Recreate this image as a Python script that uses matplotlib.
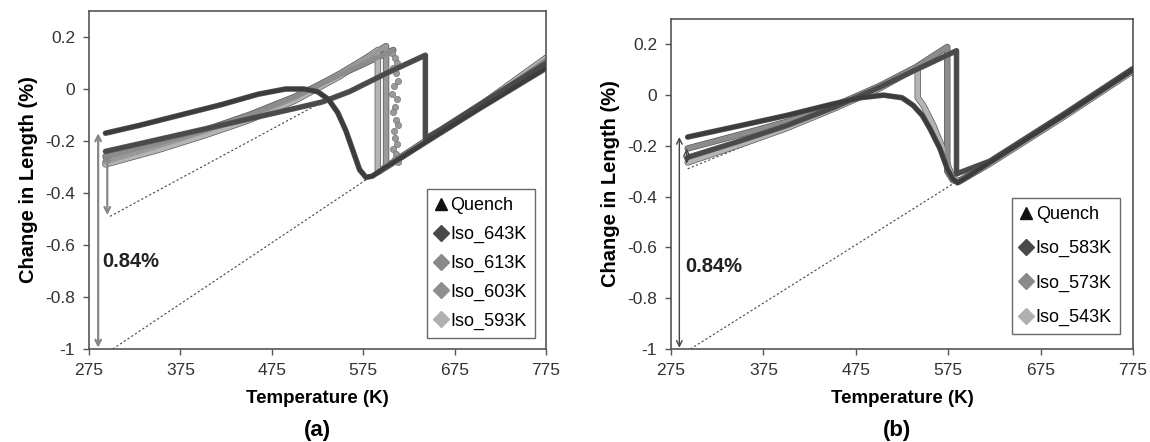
import matplotlib
matplotlib.use("Agg")
import matplotlib.pyplot as plt
from matplotlib.lines import Line2D

plt.rcParams["font.family"] = ["Liberation Sans", "DejaVu Sans"]

# Panel (a) data
quench_a_T = [293, 330, 375, 420, 460, 490, 510, 525, 537, 547, 556, 564, 571, 578, 585, 600, 650, 700, 775]
quench_a_y = [-0.17, -0.14, -0.10, -0.06, -0.02, 0.0, 0.0, -0.01, -0.04, -0.09, -0.16, -0.24, -0.31, -0.34, -0.335, -0.30, -0.19, -0.08, 0.08]

iso643_T = [293, 350, 400, 450, 506, 530, 560, 600, 643, 643, 660, 700, 775]
iso643_y = [-0.24, -0.195, -0.155, -0.115, -0.07, -0.05, -0.01, 0.06, 0.13, -0.19, -0.155, -0.065, 0.10]

iso613_T = [293, 350, 400, 450, 500, 550, 608]
iso613_y = [-0.26, -0.21, -0.16, -0.10, -0.03, 0.055, 0.15]
iso613_drop_T = [607, 610, 612, 608, 611, 613, 609, 607, 612, 610, 608, 611, 613, 609, 610, 612, 608, 611, 610, 613]
iso613_drop_y = [0.14, 0.12, 0.10, 0.08, 0.06, 0.03, 0.01, -0.02, -0.04, -0.07, -0.09, -0.12, -0.14, -0.16, -0.19, -0.21, -0.23, -0.25, -0.27, -0.28]
iso613_tail_T = [613, 650, 700, 775]
iso613_tail_y = [-0.27, -0.185, -0.075, 0.11]

iso603_T = [293, 350, 400, 450, 500, 550, 600, 600, 650, 700, 775]
iso603_y = [-0.28, -0.22, -0.165, -0.105, -0.035, 0.06, 0.165, -0.30, -0.185, -0.075, 0.11]

iso593_T = [293, 350, 400, 450, 500, 550, 591, 591, 650, 700, 775]
iso593_y = [-0.29, -0.235, -0.18, -0.12, -0.045, 0.05, 0.15, -0.32, -0.185, -0.07, 0.12]

guide_a1_T = [298, 530]
guide_a1_y = [-0.49, -0.05]
guide_a2_T = [301, 582]
guide_a2_y = [-1.0, -0.34]

# Panel (b) data
quench_b_T = [293, 350, 400, 450, 480, 505, 525, 537, 547, 555, 566, 574, 580, 585, 592, 620, 700, 775]
quench_b_y = [-0.165, -0.12, -0.08, -0.035, -0.01, 0.0, -0.01, -0.04, -0.08, -0.13, -0.21, -0.29, -0.33, -0.345, -0.33, -0.265, -0.08, 0.10]

iso583_T = [293, 350, 400, 450, 500, 540, 584, 584, 620, 700, 775]
iso583_y = [-0.245, -0.18, -0.12, -0.05, 0.03, 0.10, 0.175, -0.31, -0.26, -0.075, 0.105]

iso573_T = [293, 350, 400, 450, 500, 540, 574, 574, 580, 586, 620, 700, 775]
iso573_y = [-0.21, -0.155, -0.105, -0.045, 0.035, 0.11, 0.19, -0.30, -0.335, -0.34, -0.265, -0.08, 0.10]

iso543_T = [293, 350, 400, 450, 500, 542, 542, 548, 559, 568, 575, 580, 587, 620, 700, 775]
iso543_y = [-0.265, -0.195, -0.13, -0.055, 0.025, 0.11, -0.01, -0.04, -0.12, -0.20, -0.28, -0.325, -0.34, -0.27, -0.085, 0.095]

guide_b_T = [[293, 450], [293, 460], [293, 470], [296, 582]]
guide_b_y = [[-0.26, -0.05], [-0.275, -0.04], [-0.29, -0.03], [-1.0, -0.345]]

x_ticks = [275, 375, 475, 575, 675, 775]
y_ticks = [-1, -0.8, -0.6, -0.4, -0.2, 0, 0.2]
y_tick_labels = ["-1", "-0.8", "-0.6", "-0.4", "-0.2", "0", "0.2"]

legend_a = [("Quench", "^", "#111111"), ("Iso_643K", "D", "#4a4a4a"),
            ("Iso_613K", "D", "#8a8a8a"), ("Iso_603K", "D", "#8f8f8f"),
            ("Iso_593K", "D", "#b0b0b0")]
legend_b = [("Quench", "^", "#111111"), ("Iso_583K", "D", "#4a4a4a"),
            ("Iso_573K", "D", "#8a8a8a"), ("Iso_543K", "D", "#b0b0b0")]


def style_axes(ax):
    ax.set_xlim(275, 775)
    ax.set_ylim(-1, 0.3)
    ax.set_xticks(x_ticks)
    ax.set_yticks(y_ticks)
    ax.set_yticklabels(y_tick_labels)
    ax.tick_params(direction="out", length=4, width=1, color="#555555",
                   labelsize=12.5, labelcolor="#333333", pad=6)
    for s in ax.spines.values():
        s.set_color("#555555")
        s.set_linewidth(1.2)
    ax.set_xlabel("Temperature (K)", fontsize=13.5, fontweight="bold", labelpad=9)
    ax.set_ylabel("Change in Length (%)", fontsize=14.5, fontweight="bold", labelpad=5)


def curve(ax, T, y, color, lw=3.6, z=2):
    ax.plot(T, y, color="#5a5a5a", lw=lw + 1.0, solid_capstyle="round", zorder=z)
    ax.plot(T, y, color=color, lw=lw, solid_capstyle="round", zorder=z + 0.1)


def add_legend(ax, items, anchor, spacing):
    handles = [Line2D([], [], ls="none", marker=m, color=c, markersize=8 if m == "D" else 9)
               for _, m, c in items]
    leg = ax.legend(handles, [t for t, _, _ in items], loc="lower right",
                    bbox_to_anchor=anchor, fontsize=13, frameon=True, fancybox=False,
                    edgecolor="#444444", handlelength=0.6, handletextpad=0.25,
                    labelspacing=spacing, borderpad=0.45, borderaxespad=0)
    leg.get_frame().set_linewidth(1.0)


def arrow(ax, x, y0, y1, color, lw):
    ax.annotate("", xy=(x, y1), xytext=(x, y0),
                arrowprops=dict(arrowstyle="<->", color=color, lw=lw,
                                shrinkA=0, shrinkB=0), zorder=4)


fig = plt.figure(figsize=(11.5, 4.42), dpi=100)
ax_a = fig.add_axes([0.0774, 0.2104, 0.3974, 0.7647])
ax_b = fig.add_axes([0.5835, 0.2104, 0.4017, 0.7466])

# (a)
ax_a.plot(guide_a1_T, guide_a1_y, ls=(0, (2, 2)), color="#444444", lw=0.8)
ax_a.plot(guide_a2_T, guide_a2_y, ls=(0, (2, 2)), color="#444444", lw=0.8)
curve(ax_a, iso593_T, iso593_y, "#b4b4b4")
curve(ax_a, iso603_T, iso603_y, "#999999")
curve(ax_a, iso613_T, iso613_y, "#8c8c8c")
ax_a.plot(iso613_drop_T, iso613_drop_y, ls="none", marker="o", ms=4.5,
          color="#9a9a9a", mec="#777777", mew=0.5, zorder=2)
curve(ax_a, iso613_tail_T, iso613_tail_y, "#8c8c8c")
curve(ax_a, iso643_T, iso643_y, "#4a4a4a", lw=3.0, z=3)
curve(ax_a, quench_a_T, quench_a_y, "#3c3c3c", lw=3.0, z=3)
arrow(ax_a, 285, -0.17, -0.995, "#888888", 1.6)
arrow(ax_a, 295, -0.245, -0.485, "#888888", 1.6)
ax_a.text(290, -0.665, "0.84%", fontsize=14.5, fontweight="bold", va="center", color="#222222")
style_axes(ax_a)
add_legend(ax_a, legend_a, (0.976, 0.0325), 0.65)

# (b)
for T, y in zip(guide_b_T, guide_b_y):
    ax_b.plot(T, y, ls=(0, (2, 2)), color="#444444", lw=0.8)
curve(ax_b, iso543_T, iso543_y, "#b4b4b4")
curve(ax_b, iso573_T, iso573_y, "#8c8c8c")
curve(ax_b, iso583_T, iso583_y, "#4a4a4a", lw=3.0, z=3)
curve(ax_b, quench_b_T, quench_b_y, "#3c3c3c", lw=3.0, z=3)
arrow(ax_b, 284, -0.165, -0.995, "#444444", 1.0)
arrow(ax_b, 292, -0.21, -0.27, "#444444", 1.0)
ax_b.text(290, -0.675, "0.84%", fontsize=14.5, fontweight="bold", va="center", color="#222222")
style_axes(ax_b)
add_legend(ax_b, legend_b, (0.972, 0.045), 0.95)

fig.text(0.276, 0.027, "(a)", fontsize=16, fontweight="bold", ha="center", va="center")
fig.text(0.780, 0.027, "(b)", fontsize=16, fontweight="bold", ha="center", va="center")

fig.savefig("out.png", dpi=100)
